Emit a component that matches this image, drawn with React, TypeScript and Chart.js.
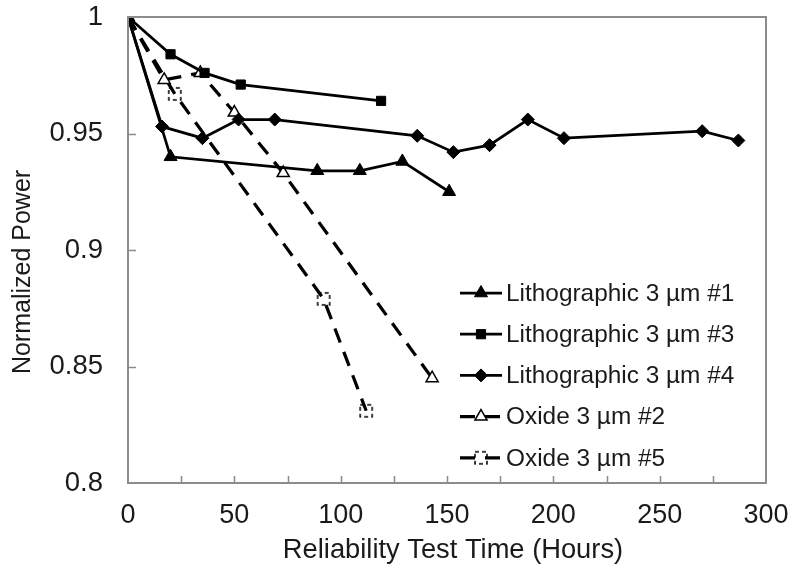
import React, { useEffect, useRef } from 'react';
import { Chart, registerables } from 'chart.js';

Chart.register(...registerables);

// ---------- data ----------
const seriesNames = [
  'Lithographic 3 µm #1',
  'Lithographic 3 µm #3',
  'Lithographic 3 µm #4',
  'Oxide 3 µm #2',
  'Oxide 3 µm #5',
];

const litho1Hours = [0, 20, 89, 109, 129, 151];
const litho1Power = [1, 0.94, 0.934, 0.934, 0.938, 0.925];

const litho3Hours = [0, 20, 36, 53, 119];
const litho3Power = [1, 0.984, 0.976, 0.971, 0.964];

const litho4Hours = [0, 16, 35, 52, 69, 136, 153, 170, 188, 205, 270, 287];
const litho4Power = [1, 0.953, 0.948, 0.956, 0.956, 0.949, 0.942, 0.945, 0.956, 0.948, 0.951, 0.947];

const oxide2Hours = [0, 17, 34, 50, 73, 143];
const oxide2Power = [1, 0.973, 0.976, 0.959, 0.933, 0.845];

const oxide5Hours = [0, 22, 92, 112];
const oxide5Power = [1, 0.967, 0.879, 0.831];

const xTickValues = [0, 50, 100, 150, 200, 250, 300];
const xTickLabels = ['0', '50', '100', '150', '200', '250', '300'];
const xTickMarkValues = [25, 50, 75, 100, 125, 150, 175, 200, 225, 250, 275];
const yTickValues = [0.8, 0.85, 0.9, 0.95, 1];
const yTickLabels = ['0.8', '0.85', '0.9', '0.95', '1'];
const yTickMarkValues = [0.85, 0.9, 0.95];

const xTitle = 'Reliability Test Time (Hours)';
const yTitle = 'Normalized Power';

// ---------- helpers ----------
const FONT = "'Liberation Sans', Arial, sans-serif";
const TEXT = '#1a1a1a';

function toPoints(xs: number[], ys: number[]) {
  return xs.map((x, i) => ({ x, y: ys[i] }));
}

function makeDashedSquare(): HTMLCanvasElement {
  const c = document.createElement('canvas');
  c.width = 16;
  c.height = 16;
  const ctx = c.getContext('2d')!;
  ctx.strokeStyle = '#000';
  ctx.lineWidth = 1.5;
  ctx.setLineDash([4, 3]);
  ctx.strokeRect(2, 2, 12, 12);
  return c;
}

function drawMarker(ctx: CanvasRenderingContext2D, ds: any, x: number, y: number) {
  const style = ds.pointStyle;
  const r = ds.pointRadius;
  ctx.save();
  ctx.setLineDash([]);
  ctx.fillStyle = ds.pointBackgroundColor;
  ctx.strokeStyle = ds.pointBorderColor;
  ctx.lineWidth = ds.pointBorderWidth;
  if (style instanceof HTMLCanvasElement) {
    ctx.drawImage(style, x - style.width / 2, y - style.height / 2);
    ctx.restore();
    return;
  }
  ctx.beginPath();
  if (style === 'triangle') {
    for (let k = 0; k < 3; k++) {
      const a = -Math.PI / 2 + (k * 2 * Math.PI) / 3;
      const px = x + Math.cos(a) * r;
      const py = y + Math.sin(a) * r;
      if (k === 0) ctx.moveTo(px, py);
      else ctx.lineTo(px, py);
    }
    ctx.closePath();
  } else if (style === 'rect') {
    const s = r * Math.SQRT2;
    ctx.rect(x - s / 2, y - s / 2, s, s);
  } else if (style === 'rectRot') {
    ctx.moveTo(x, y - r);
    ctx.lineTo(x + r, y);
    ctx.lineTo(x, y + r);
    ctx.lineTo(x - r, y);
    ctx.closePath();
  }
  ctx.fill();
  ctx.stroke();
  ctx.restore();
}

const framePlugin = {
  id: 'frameAndTicks',
  afterDatasetsDraw(chart: any) {
    const { ctx, chartArea, scales } = chart;
    const { left, right, top, bottom } = chartArea;
    ctx.save();
    ctx.strokeStyle = '#8c8c8c';
    ctx.lineWidth = 2;
    ctx.setLineDash([]);
    ctx.strokeRect(left, top, right - left, bottom - top);
    ctx.lineWidth = 1.5;
    ctx.beginPath();
    for (const v of xTickMarkValues) {
      const px = Math.round(scales.x.getPixelForValue(v)) + 0.5;
      ctx.moveTo(px, bottom);
      ctx.lineTo(px, bottom - 7);
    }
    for (const v of yTickMarkValues) {
      const py = Math.round(scales.y.getPixelForValue(v)) + 0.5;
      ctx.moveTo(left, py);
      ctx.lineTo(left + 8, py);
    }
    ctx.stroke();
    ctx.restore();
  },
  afterDraw(chart: any) {
    const { ctx } = chart;
    ctx.save();
    ctx.fillStyle = TEXT;
    ctx.textAlign = 'center';
    ctx.textBaseline = 'middle';
    // x-axis title
    ctx.font = `27.3px ${FONT}`;
    ctx.fillText(xTitle, 453, 550);
    // y-axis title
    ctx.translate(23, 272);
    ctx.rotate(-Math.PI / 2);
    ctx.font = `25px ${FONT}`;
    ctx.fillText(yTitle, 0, 0);
    ctx.restore();
  },
};

const legendPlugin = {
  id: 'insideLegend',
  afterDraw(chart: any) {
    const { ctx } = chart;
    const datasets = chart.data.datasets;
    const x0 = 460;
    const x1 = 502;
    const textX = 506;
    const y0 = 293;
    const step = 41.2;
    ctx.save();
    datasets.forEach((ds: any, i: number) => {
      const y = y0 + i * step;
      ctx.strokeStyle = ds.borderColor;
      ctx.lineWidth = ds.borderWidth;
      ctx.setLineDash(ds.borderDash || []);
      ctx.beginPath();
      ctx.moveTo(x0, y);
      ctx.lineTo(x1, y);
      ctx.stroke();
      ctx.setLineDash([]);
      drawMarker(ctx, ds, (x0 + x1) / 2, y);
      ctx.fillStyle = TEXT;
      ctx.font = `24.4px ${FONT}`;
      ctx.textAlign = 'left';
      ctx.textBaseline = 'middle';
      ctx.fillText(ds.label, textX, y + 1);
    });
    ctx.restore();
  },
};

function zeroPadding(s: any) {
  s.paddingTop = 0;
  s.paddingBottom = 0;
  s.paddingLeft = 0;
  s.paddingRight = 0;
}

export default function App() {
  const canvasRef = useRef<HTMLCanvasElement | null>(null);

  useEffect(() => {
    const canvas = canvasRef.current;
    if (!canvas) return;
    const dashedSquare = makeDashedSquare();

    const chart = new Chart(canvas, {
      type: 'line',
      data: {
        datasets: [
          {
            label: seriesNames[0],
            data: toPoints(litho1Hours, litho1Power),
            borderColor: '#000',
            borderWidth: 2.75,
            pointStyle: 'triangle',
            pointRadius: 7.5,
            pointBackgroundColor: '#000',
            pointBorderColor: '#000',
            pointBorderWidth: 1,
          },
          {
            label: seriesNames[1],
            data: toPoints(litho3Hours, litho3Power),
            borderColor: '#000',
            borderWidth: 2.75,
            pointStyle: 'rect',
            pointRadius: 6.5,
            pointBackgroundColor: '#000',
            pointBorderColor: '#000',
            pointBorderWidth: 1,
          },
          {
            label: seriesNames[2],
            data: toPoints(litho4Hours, litho4Power),
            borderColor: '#000',
            borderWidth: 2.75,
            pointStyle: 'rectRot',
            pointRadius: 6.5,
            pointBackgroundColor: '#000',
            pointBorderColor: '#000',
            pointBorderWidth: 1,
          },
          {
            label: seriesNames[3],
            data: toPoints(oxide2Hours, oxide2Power),
            borderColor: '#000',
            borderWidth: 3.25,
            borderDash: [15, 10],
            pointStyle: 'triangle',
            pointRadius: 7,
            pointBackgroundColor: '#fff',
            pointBorderColor: '#000',
            pointBorderWidth: 1.5,
          },
          {
            label: seriesNames[4],
            data: toPoints(oxide5Hours, oxide5Power),
            borderColor: '#000',
            borderWidth: 3.25,
            borderDash: [15, 10],
            pointStyle: dashedSquare,
            pointRadius: 7,
            pointBackgroundColor: 'rgba(0,0,0,0)',
            pointBorderColor: '#000',
            pointBorderWidth: 1.5,
          },
        ] as any,
      },
      options: {
        responsive: false,
        animation: false,
        devicePixelRatio: 1,
        layout: { padding: { top: 17, right: 33, left: 0, bottom: 0 } },
        elements: { line: { tension: 0, fill: false } },
        plugins: {
          legend: { display: false },
          tooltip: { enabled: false },
        },
        scales: {
          x: {
            type: 'linear',
            min: 0,
            max: 300,
            grid: { display: false, drawTicks: false },
            border: { display: false },
            afterBuildTicks: (s: any) => {
              s.ticks = xTickValues.map((v) => ({ value: v }));
            },
            afterFit: (s: any) => {
              s.height = 83;
              zeroPadding(s);
            },
            ticks: {
              autoSkip: false,
              maxRotation: 0,
              padding: 16,
              color: TEXT,
              font: { family: FONT, size: 27 },
              callback: (_v: any, i: number) => xTickLabels[i],
            },
            title: { display: false },
          },
          y: {
            type: 'linear',
            min: 0.8,
            max: 1,
            grid: { display: false, drawTicks: false },
            border: { display: false },
            afterBuildTicks: (s: any) => {
              s.ticks = yTickValues.map((v) => ({ value: v }));
            },
            afterFit: (s: any) => {
              s.width = 128;
              zeroPadding(s);
            },
            ticks: {
              autoSkip: false,
              padding: 25,
              color: TEXT,
              font: { family: FONT, size: 27.5 },
              callback: (_v: any, i: number) => yTickLabels[i],
            },
            title: { display: false },
          },
        },
      } as any,
      plugins: [framePlugin, legendPlugin],
    });

    return () => chart.destroy();
  }, []);

  return (
    <div style={{ position: 'absolute', left: 0, top: 0, width: 799, height: 566, background: '#fff' }}>
      <canvas ref={canvasRef} width={799} height={566} style={{ display: 'block' }} />
    </div>
  );
}
